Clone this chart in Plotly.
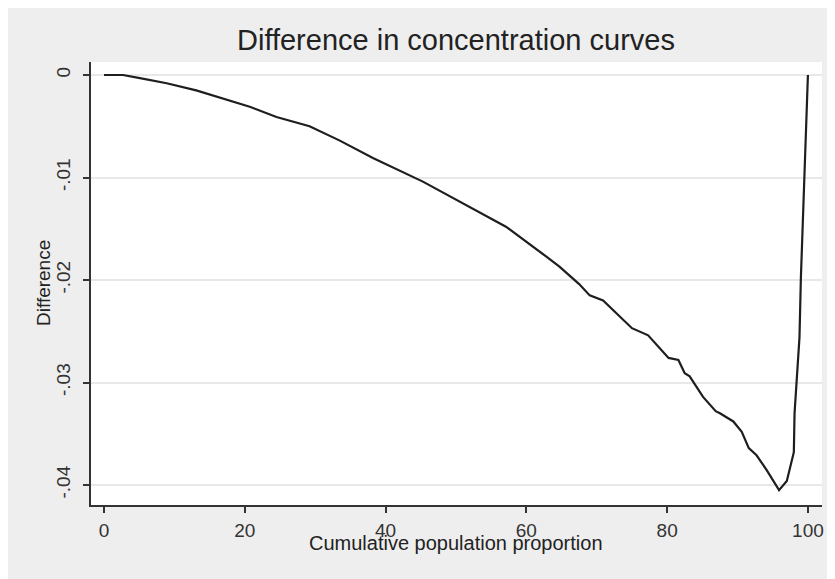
import plotly.graph_objects as go

# Data
pop_share = [0, 2.7, 5.1, 8.9, 13.1, 17.0, 20.7, 24.5, 29.2, 33.5, 38.2, 45.3, 51.0,
             57.1, 62.8, 64.7, 67.5, 69.0, 70.9, 75.0, 77.3, 80.2, 81.6, 82.5, 83.2,
             85.1, 86.9, 87.5, 89.4, 90.6, 91.6, 92.7, 94.1, 95.9, 97.0, 97.7, 98.0,
             98.1, 98.5, 98.8, 99.0, 99.3, 99.7, 100.0]
difference = [0, 0, -0.0003, -0.0008, -0.0015, -0.0023, -0.0031, -0.0041, -0.0050,
              -0.0064, -0.0081, -0.0104, -0.0125, -0.0148, -0.0177, -0.0187, -0.0204,
              -0.0215, -0.0220, -0.0247, -0.0254, -0.0276, -0.0278, -0.0291, -0.0294,
              -0.0314, -0.0328, -0.0330, -0.0338, -0.0348, -0.0364, -0.0371, -0.0385,
              -0.0405, -0.0396, -0.0378, -0.0368, -0.0330, -0.0290, -0.0256, -0.0198,
              -0.0138, -0.0073, 0.0]

x_ticks = [0, 20, 40, 60, 80, 100]
y_ticks = [0, -0.01, -0.02, -0.03, -0.04]
y_tick_labels = ["0", "-.01", "-.02", "-.03", "-.04"]

title_text = "Difference in concentration curves"
x_title = "Cumulative population proportion"
y_title = "Difference"

FONT = "Liberation Sans, Arial, sans-serif"
OFF = 8  # page body margin
W, H = 835 - OFF, 579 - OFF
L, R, T = 91 - OFF, 13, 62 - OFF
B = H - (505 - OFF)
pw, ph = W - L - R, H - T - B


def px_x(p):  # page pixel -> paper
    return (p - OFF - L) / pw


def px_y(p):
    return (H - B - (p - OFF)) / ph


fig = go.Figure()
fig.add_trace(go.Scatter(
    x=pop_share, y=difference, mode="lines",
    line=dict(color="#1e1e1e", width=2.2), hoverinfo="skip", showlegend=False,
))

fig.update_layout(
    width=W, height=H,
    margin=dict(l=L, r=R, t=T, b=B, pad=0),
    paper_bgcolor="#eeeeee",
    plot_bgcolor="#ffffff",
    showlegend=False,
    font=dict(family=FONT, color="#222222"),
)

fig.update_xaxes(
    range=[-1.85, 102.0], tickvals=x_ticks, ticktext=[str(v) for v in x_ticks],
    showgrid=False, zeroline=False, automargin=False,
    showline=True, linecolor="#333333", linewidth=1.5,
    ticks="outside", ticklen=6, tickwidth=1.5, tickcolor="#333333",
    tickfont=dict(size=19, family=FONT, color="#333333"),
    ticklabelstandoff=1,
)
fig.update_yaxes(
    range=[-0.04195, 0.00127], tickvals=y_ticks, ticktext=y_tick_labels,
    tickangle=-90, automargin=False,
    showgrid=True, gridcolor="#e8e8e8", gridwidth=1.5, zeroline=False,
    showline=True, linecolor="#333333", linewidth=1.5,
    ticks="outside", ticklen=6, tickwidth=1.5, tickcolor="#333333",
    tickfont=dict(size=19, family=FONT, color="#333333"),
    ticklabelstandoff=6,
)

fig.add_annotation(text=title_text, xref="paper", yref="paper",
                   x=px_x(456), y=px_y(40), xanchor="center", yanchor="middle",
                   showarrow=False, font=dict(size=29, family=FONT, color="#222222"))
fig.add_annotation(text=x_title, xref="paper", yref="paper",
                   x=px_x(456), y=px_y(543), xanchor="center", yanchor="middle",
                   showarrow=False, font=dict(size=20, family=FONT, color="#222222"))
fig.add_annotation(text=y_title, xref="paper", yref="paper",
                   x=px_x(43), y=px_y(283), xanchor="center", yanchor="middle",
                   textangle=-90,
                   showarrow=False, font=dict(size=19, family=FONT, color="#222222"))

fig.write_html("out.html")
